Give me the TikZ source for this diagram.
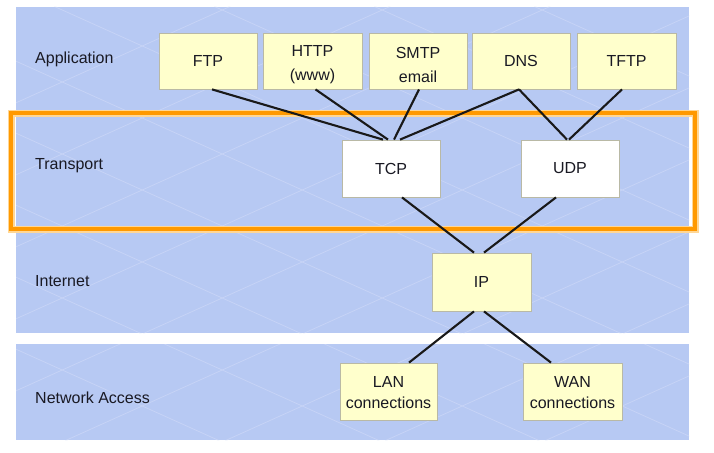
\documentclass[tikz,border=0pt]{standalone}
\usepackage{fontspec}
\setmainfont{Liberation Sans}
\usetikzlibrary{calc}
\definecolor{bandblue}{RGB}{183,201,243}
\definecolor{boxyellow}{RGB}{255,255,204}
\definecolor{boxline}{RGB}{185,185,165}
\definecolor{frameorange}{RGB}{255,153,0}
\definecolor{framelight}{RGB}{255,215,150}
\definecolor{txt}{RGB}{25,25,35}
\definecolor{gridline}{RGB}{198,211,246}
\begin{document}
\begin{tikzpicture}[x=1pt,y=-1pt,
  font=\fontsize{16}{23}\selectfont, text=txt,
  ybox/.style={draw=boxline, fill=boxyellow, minimum width=98pt, minimum height=56pt,
    inner sep=0pt, align=center, line width=0.8pt},
  wbox/.style={ybox, fill=white},
  twol/.style={align=center, inner sep=0pt, font=\fontsize{16}{24}\selectfont, yshift=-4pt},
  twos/.style={align=center, inner sep=0pt, font=\fontsize{16}{21}\selectfont, yshift=-1.5pt},
  layer/.style={anchor=west, inner sep=0pt},
  link/.style={draw=black!90, line width=2.1pt}]
\useasboundingbox (0,0) rectangle (714,452);
\fill[white] (0,0) rectangle (714,452);
% bands
\fill[bandblue] (16,7) rectangle (689,333);
\fill[bandblue] (16,344) rectangle (689,440);
% faint lattice
\begin{scope}
\clip (16,7) rectangle (689,333) (16,344) rectangle (689,440);
\foreach \i in {-760,-600,...,700}{
  \draw[gridline, line width=0.8pt] (\i,0) -- ++(1000,450);
  \draw[gridline, line width=0.8pt] (\i,452) -- ++(1000,-450);
}
\end{scope}
% transport frame
\draw[framelight, line width=7pt] (11,113) rectangle (695,229);
\draw[frameorange, line width=4pt] (11,113) rectangle (695,229);
% layer labels
\node[layer] (lapp) at (35,59) {Application};
\node[layer] (ltra) at (35,166) {Transport};
\node[layer] (lint) at (35,281) {Internet};
\node[layer] (lnet) at (35,398) {Network Access};
% boxes
\node[ybox] (ftp)  at (208,61)   {FTP};
\node[ybox, minimum width=99pt, label={[twol]center:HTTP\\(www)}] (http) at (312.5,61) {};
\node[ybox, label={[twol]center:SMTP\\email}] (smtp) at (418,61) {};
\node[ybox] (dns)  at (521,61)   {DNS};
\node[ybox, minimum width=99pt] (tftp) at (626.5,61) {TFTP};
\node[wbox, minimum height=57pt] (tcp) at (391,168.5) {TCP};
\node[wbox, minimum height=57pt] (udp) at (570,168.5) {UDP};
\node[ybox, minimum width=99pt, minimum height=58pt] (ip) at (481.5,282) {IP};
\node[ybox, minimum width=97pt, minimum height=57pt, label={[twos]center:LAN\\connections}] (lan) at (388.5,391.5) {};
\node[ybox, minimum width=99pt, minimum height=57pt, label={[twos]center:WAN\\connections}] (wan) at (572.5,391.5) {};
% connectors
\draw[link] ($(ftp.south)+(4,0)$)  -- ($(tcp.north)+(-8,0)$);
\draw[link] ($(http.south)+(3,0)$) -- ($(tcp.north)+(-3,0)$);
\draw[link] ($(smtp.south)+(1,0)$) -- ($(tcp.north)+(3,0)$);
\draw[link] ($(dns.south)+(-2,0)$) -- ($(tcp.north)+(9,0)$);
\draw[link] ($(dns.south)+(-2,0)$) -- ($(udp.north)+(-3,0)$);
\draw[link] ($(tftp.south)+(-4.5,0)$) -- ($(udp.north)+(-1,0)$);
\draw[link] ($(tcp.south)+(11,0)$) -- ($(ip.north)+(-7.5,0)$);
\draw[link] ($(udp.south)+(-14,0)$) -- ($(ip.north)+(2.5,0)$);
\draw[link] ($(ip.south)+(-7.5,0)$) -- ($(lan.north)+(20.5,0)$);
\draw[link] ($(ip.south)+(2.5,0)$) -- ($(wan.north)+(-21.5,0)$);
\end{tikzpicture}
\end{document}
